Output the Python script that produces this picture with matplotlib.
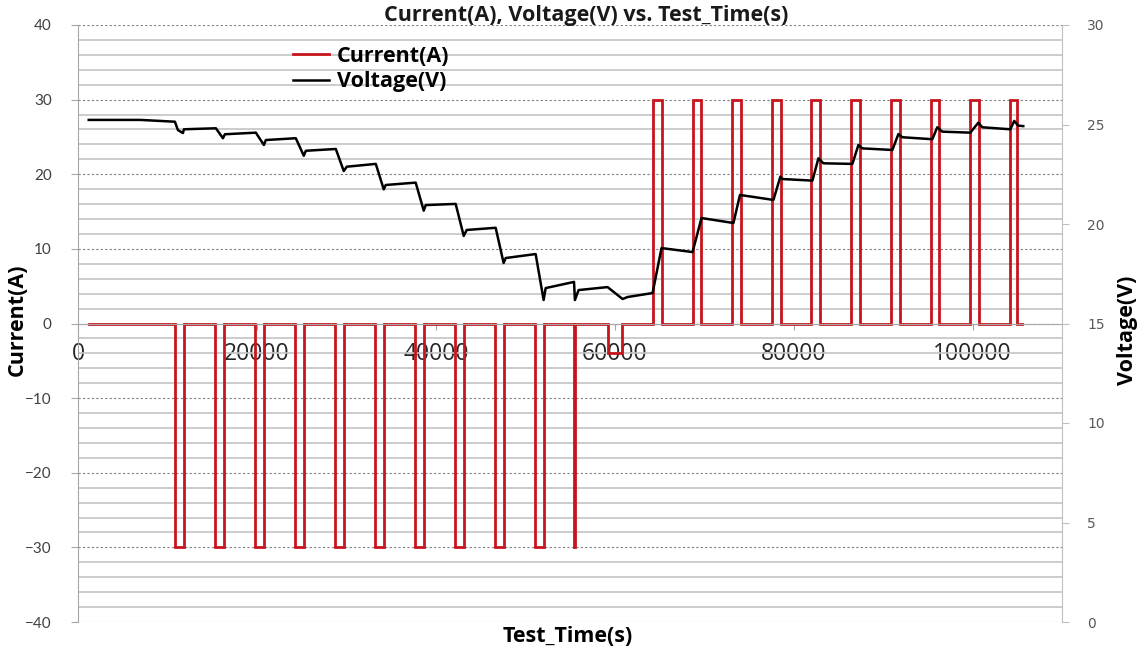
import matplotlib
matplotlib.use("Agg")
import matplotlib.pyplot as plt
from matplotlib.ticker import MultipleLocator
from matplotlib.lines import Line2D

# ---- test data -------------------------------------------------------------
t_first = 1200       # s, first logged sample
t_last = 105670      # s, last logged sample

# current pulses: start (s), end (s), amplitude (A)
pulse_start = [10835, 15300, 19770, 24240, 28700, 33170, 37640, 42110, 46580,
               51050, 55450, 59300,
               64230, 68700, 73160, 77630, 81990, 86460, 90920, 95390, 99750,
               104220]
pulse_end = [11840, 16310, 20780, 25240, 29710, 34180, 38650, 43120, 47580,
             52050, 55560, 60760,
             65340, 69700, 74170, 78640, 83000, 87460, 91930, 96290, 100750,
             105000]
pulse_amps = [-30, -30, -30, -30, -30, -30, -30, -30, -30,
              -30, -30, -4,
              30, 30, 30, 30, 30, 30, 30, 30, 30,
              30]

# voltage samples
volt_time = [1200, 7000, 10835, 11170, 11730, 11840, 15415, 16200, 16420,
             19880, 20780, 21000, 24350, 25240, 25470, 28820, 29710, 30050,
             33290, 34180, 34400, 37750, 38650, 38870, 42220, 43120, 43450,
             46690, 47580, 47810, 51160, 52050, 52280, 55450, 55550, 55960,
             59200, 60880, 61430, 64230, 65230, 68700, 69700, 73270, 74000,
             77740, 78520, 78750, 82100, 82770, 83330, 86570, 87240, 87680,
             91040, 91710, 92150, 95500, 96060, 96620, 99750, 100640, 101090,
             104220, 104660, 105110, 105670]
volt_vals = [25.23, 25.23, 25.14, 24.72, 24.57, 24.76, 24.81, 24.31, 24.51,
             24.59, 23.97, 24.22, 24.31, 23.43, 23.68, 23.77, 22.66, 22.88,
             23.02, 21.74, 21.96, 22.08, 20.67, 20.95, 21.01, 19.40, 19.70,
             19.81, 18.04, 18.29, 18.49, 16.18, 16.78, 17.09, 16.18, 16.68,
             16.83, 16.23, 16.33, 16.53, 18.79, 18.59, 20.30, 20.05, 21.46,
             21.21, 22.38, 22.26, 22.18, 23.30, 23.05, 23.02, 23.97, 23.80,
             23.72, 24.52, 24.36, 24.26, 24.86, 24.64, 24.59, 25.09, 24.86,
             24.76, 25.18, 24.94, 24.92]

# build the step trace of the current
cur_t = [t_first]
cur_i = [0]
for s, e, a in zip(pulse_start, pulse_end, pulse_amps):
    cur_t += [s, s, e, e]
    cur_i += [0, a, a, 0]
cur_t.append(t_last - 100)
cur_i.append(0)

# ---- figure ------------------------------------------------------------------
bold_font = "Open Sans"
W, H = 1146, 652
fig = plt.figure(figsize=(W / 100, H / 100), dpi=100)
ax = fig.add_axes([78 / W, 1 - 622 / H, (1062 - 78) / W, (622 - 25) / H])
ax2 = ax.twinx()

red = "#c8141c"
ax.plot(cur_t, cur_i, color=red, lw=2.0, solid_joinstyle="miter")
ax2.plot(volt_time, volt_vals, color="black", lw=1.8)

ax.set_xlim(0, 110000)
ax.set_ylim(-40, 40)
ax2.set_ylim(0, 30)

ax.yaxis.set_major_locator(MultipleLocator(10))
ax.yaxis.set_minor_locator(MultipleLocator(2))
ax.xaxis.set_major_locator(MultipleLocator(20000))
ax2.yaxis.set_major_locator(MultipleLocator(5))

ax.grid(which="major", axis="y", color="#7f7f7f", lw=0.8, ls=(0, (2, 2)))
ax.grid(which="minor", axis="y", color="#c4c4c4", lw=1.2)
ax.grid(False, axis="x")
ax.set_axisbelow(True)

for a in (ax, ax2):
    a.spines["top"].set_visible(False)
ax.spines["bottom"].set_position(("data", 0))
ax.spines["bottom"].set_color("#a6a6a6")
ax.spines["left"].set_color("#a6a6a6")
ax2.spines["right"].set_color("#bfbfbf")
ax2.spines["left"].set_visible(False)
ax2.spines["bottom"].set_visible(False)
ax.spines["right"].set_visible(False)

ax.tick_params(axis="y", which="major", length=5, color="#a6a6a6",
               labelsize=11, labelcolor="#404040", pad=14)
ax.tick_params(axis="y", which="minor", length=0)
ax.tick_params(axis="x", length=4, color="#a6a6a6", labelsize=16.5,
               labelcolor="#262626", pad=9)
for lbl in ax.get_yticklabels():
    lbl.set_fontfamily("Lato")
for lbl in ax.get_xticklabels():
    lbl.set_fontfamily(bold_font)
ax2.tick_params(axis="y", length=5, color="#bfbfbf", labelsize=10,
                labelcolor="#595959", pad=13)

label_kw = dict(fontsize=15.5, fontweight="bold", family=bold_font)
fig.text(586 / W, 1 - 16 / H, "Current(A), Voltage(V) vs. Test_Time(s)",
         ha="center", va="center", color="#1a1a1a", **label_kw)
fig.text(17 / W, 1 - 320 / H, "Current(A)", rotation=90, ha="center",
         va="center", **label_kw)
fig.text(1127 / W, 1 - 330 / H, "Voltage(V)", rotation=90, ha="center",
         va="center", **label_kw)
fig.text(568 / W, 1 - 636 / H, "Test_Time(s)", ha="center", va="center",
         **label_kw)

handles = [Line2D([], [], color=red, lw=2.0), Line2D([], [], color="black", lw=1.8)]
ax.legend(handles, ["Current(A)", "Voltage(V)"], loc="upper left",
          bbox_to_anchor=(0.218, 0.965), frameon=False, borderpad=0,
          borderaxespad=0, handlelength=1.7, handletextpad=0.35,
          labelspacing=0.2, prop={"family": bold_font, "weight": "bold",
                                  "size": 15.5})

fig.savefig("out.png", dpi=100)
